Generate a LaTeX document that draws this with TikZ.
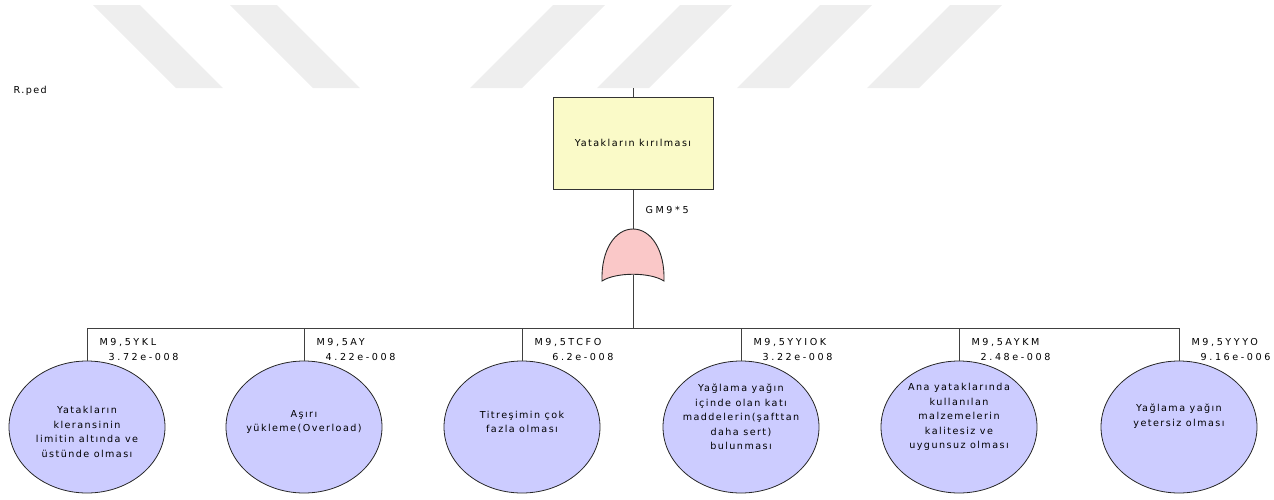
\documentclass[tikz,border=0pt]{standalone}
\usepackage{fontspec}
\setmainfont{DejaVu Sans}[LetterSpace=15]
\usetikzlibrary{shapes.geometric,positioning}
\definecolor{boxyel}{RGB}{250,250,200}
\definecolor{evblue}{RGB}{204,204,255}
\definecolor{gatepink}{RGB}{250,200,200}
\definecolor{wmgray}{RGB}{238,238,238}
\definecolor{lngray}{RGB}{64,64,64}
\tikzset{
	topbox/.style={draw=black!80,fill=boxyel,line width=1pt,minimum width=160pt,minimum height=92pt},
	event/.style={ellipse,draw=black!85,fill=evblue,line width=0.8pt,minimum width=156pt,minimum height=132pt,inner sep=0pt},
	evtext/.style={align=center,font=\fontsize{9.6}{14.6}\selectfont},
	wire/.style={draw=lngray,line width=1pt},
	orgate/.style={fill=gatepink,draw=black!85,line width=0.9pt},
	tag/.style={font=\fontsize{9.6}{12}\selectfont\addfontfeature{LetterSpace=27}},
}

\begin{document}
\begin{tikzpicture}[x=1pt,y=-1pt,font=\fontsize{9.6}{14.8}\selectfont,text=black]
	\useasboundingbox (0,0) rectangle (1274,499);
	\foreach \a in {93,230}
		\fill[wmgray] (\a,5) -- ++(47,0) -- ++(83,83) -- ++(-47,0) -- cycle;
	\foreach \a in {553,680,820,950}
		\fill[wmgray] (\a,5) -- ++(52,0) -- ++(-83,83) -- ++(-52,0) -- cycle;
	\node[anchor=base west] (file) at (10,93) {R.ped};
	\node[topbox,text depth=-3pt] (top) at (633,143) {Yatakların kırılması};
	\coordinate (in) at (633,88);
	\coordinate (gt) at (633,229);
	\coordinate (gb) at (633,275);
	\coordinate (bus) at (633,328);
	\draw[wire] (in) -- (top) -- (gt);
	\node[tag,anchor=base west] (gname) at (642,213) {GM9*5};
	\draw[wire] (gb) -- (bus);
	\filldraw[orgate] (602,281) .. controls (601,250) and (615,229) .. (gt)
		.. controls (651,229) and (665,250) .. (664,281)
		.. controls (650,272) and (616,272) .. (602,281) -- cycle;
	\foreach \x/\id/\dy/\name/\p/\txt in {
		87/1/-5/{M9,5YKL}/{3.72e-008}/{Yatakların\\kleransinin\\limitin altında ve\\üstünde olması},
		304/2/5/{M9,5AY}/{4.22e-008}/{Aşırı\\yükleme(Overload)},
		522/3/5/{M9,5TCFO}/{6.2e-008}/{Titreşimin çok\\fazla olması},
		741/4/10/{M9,5YYIOK}/{3.22e-008}/{Yağlama yağın\\içinde olan katı\\maddelerin(şafttan\\daha sert)\\bulunması},
		959/5/10/{M9,5AYKM}/{2.48e-008}/{Ana yataklarında\\kullanılan\\malzemelerin\\kalitesiz ve\\uygunsuz olması},
		1179/6/11/{M9,5YYYO}/{9.16e-006}/{Yağlama yağın\\yetersiz olması}}
	{
		\coordinate (b\id) at (\x,328);
		\node[event,label={[evtext,yshift=\dy pt]center:\txt}] (e\id) at (\x,427) {};
		\draw[wire] (b\id) -- (e\id);
		\node[tag,anchor=base west] (n\id) at (\x+9,345) {\name};
		\node[tag,anchor=base east] (p\id) at (\x+95,360) {\p};
	}
	\draw[wire] (b1) -- (b6);
\end{tikzpicture}
\end{document}
